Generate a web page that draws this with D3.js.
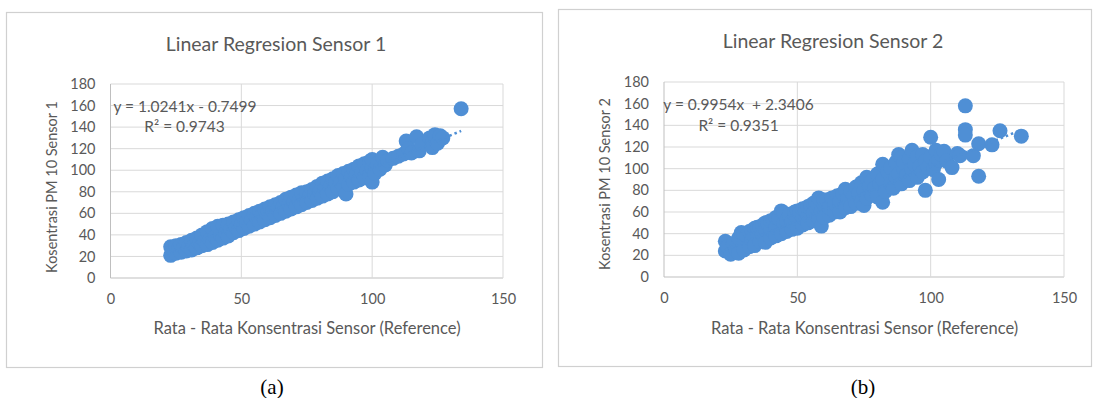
<!DOCTYPE html>
<html><head><meta charset="utf-8">
<script src="https://cdn.jsdelivr.net/npm/d3@7"></script>
<style>
body{margin:0;background:#fff}
svg{display:block}
text{font-family:Lato,"Open Sans",sans-serif;white-space:pre}
</style>
</head><body>
<svg id="c" width="1094" height="398"></svg>
<script>
// ---------- DATA ----------
const chartTitles = ["Linear Regresion Sensor 1", "Linear Regresion Sensor 2"];
const yAxisTitles = ["Kosentrasi PM 10 Sensor 1", "Kosentrasi PM 10 Sensor 2"];
const xAxisTitle = "Rata - Rata Konsentrasi Sensor (Reference)";
const captions = ["(a)", "(b)"];
const equations = ["y = 1.0241x - 0.7499", "y = 0.9954x  + 2.3406"];
const r2Labels = ["R\u00B2 = 0.9743", "R\u00B2 = 0.9351"];
const slopes = [1.0241, 0.9954];
const intercepts = [-0.7499, 2.3406];
const xTicks = [0, 50, 100, 150];
const yTicks = [0, 20, 40, 60, 80, 100, 120, 140, 160, 180];

const sensor1Points = [
[23,21],[23,29],[24,26],[25,23],[25,30],[26,27],[27,24],[27,31],[28,28],[29,25],[29,33],[30,29],[31,26],[31,35],
[32,30],[33,28],[33,37],[34,32],[35,30],[35,40],[36,34],[37,31],[37,43],[38,36],[39,33],[39,46],[40,38],[41,35],
[41,48],[42,40],[43,37],[43,49],[44,42],[45,39],[45,50],[46,45],[47,42],[47,52],[48,47],[49,44],[49,54],[50,50],
[51,46],[51,56],[52,52],[53,48],[53,58],[54,54],[55,50],[55,60],[56,56],[57,52],[57,62],[58,58],[59,54],[59,64],
[60,60],[61,56],[61,66],[62,62],[63,58],[63,68],[64,64],[65,60],[65,70],[66,66],[67,62],[67,73],[68,68],[69,64],
[69,75],[70,70],[71,66],[71,77],[72,72],[73,68],[73,79],[74,74],[75,70],[75,80],[76,76],[77,72],[77,82],[78,78],
[79,74],[79,85],[80,80],[81,76],[81,88],[82,83],[83,78],[83,90],[84,85],[85,80],[85,92],[86,88],[87,83],[87,95],
[88,89],[89,84],[89,97],[90,78],[90,92],[91,87],[91,99],[92,94],[93,89],[93,101],[94,96],[95,91],[95,104],[96,98],
[97,93],[97,106],[98,100],[99,95],[99,108],[100,89],[100,102],[100,110],[101,97],[102,106],[103,101],[104,112],
[105,105],[106,109],[108,111],[110,113],[112,115],[113,127],[114,120],[115,116],[117,131],[118,118],[119,124],
[122,130],[123,127],[123,121],[124,133],[125,125],[126,132],[127,130],[134,157]
];

const sensor2Points = [
[23,33],[23,24],[24,28],[25,21],[26,31],[27,25],[28,36],[28,22],[29,41],[30,31],[30,25],[30,40],[31,38],[32,28],
[32,42],[33,43],[33,34],[34,29],[34,45],[35,40],[35,46],[36,33],[36,46],[37,48],[37,39],[38,32],[38,44],[38,50],
[39,49],[40,36],[40,44],[40,52],[41,51],[42,38],[42,46],[42,55],[43,54],[44,61],[44,40],[45,49],[45,59],[46,42],
[46,52],[47,56],[47,58],[48,44],[48,51],[49,57],[49,60],[50,45],[50,54],[50,61],[51,59],[52,48],[52,55],[52,63],
[53,61],[54,50],[54,57],[54,65],[55,63],[55,66],[56,52],[56,59],[56,68],[57,65],[57,69],[58,73],[58,54],[59,47],
[59,61],[60,67],[60,55],[60,71],[61,71],[62,57],[62,64],[63,73],[64,60],[64,68],[65,75],[66,60],[66,70],[67,77],
[68,81],[68,64],[69,72],[70,79],[70,65],[71,74],[72,83],[72,68],[73,77],[74,87],[74,70],[75,66],[75,80],[76,92],
[76,73],[77,84],[78,76],[78,89],[79,82],[80,95],[80,74],[81,86],[82,104],[82,69],[82,90],[83,79],[84,97],[85,86],
[85,101],[86,82],[87,106],[87,92],[88,95],[88,113],[89,86],[89,110],[90,100],[90,106],[91,94],[92,109],[92,89],
[93,117],[93,100],[94,104],[95,111],[95,92],[96,102],[97,113],[97,97],[98,80],[98,107],[99,101],[100,129],[100,111],
[101,99],[102,117],[102,105],[103,90],[103,108],[104,113],[105,116],[106,107],[108,101],[110,114],[111,112],
[113,158],[113,136],[113,131],[116,112],[118,93],[118,123],[123,122],[126,135],[134,130]
];

const allPoints = [sensor1Points, sensor2Points];

// ---------- LAYOUT ----------
const layout = [
  {frame:[6.5,12.5,536,355], plot:[110.5,84,503,278], title:[276,43.5], ytitle:[51,187], xtitle:[307,328], eq:[185,106], r2:[184.5,126], cap:[272,387]},
  {frame:[558.5,9.5,533,357], plot:[664,82,1064,277], title:[833,40], ytitle:[604,184], xtitle:[864.6,328], eq:[738.5,104], r2:[738.6,125], cap:[863,387]}
];
const textColor = "#595959";
const gridColor = "#d9d9d9";
const markerColor = "#4f8fd5";

const svg = d3.select("#c");

layout.forEach((L, i) => {
  const g = svg.append("g");
  g.append("rect").attr("x", L.frame[0]).attr("y", L.frame[1]).attr("width", L.frame[2]).attr("height", L.frame[3])
    .attr("fill", "#fff").attr("stroke", "#d0d0d0").attr("stroke-width", 1.2);

  const x = d3.scaleLinear().domain([0, 150]).range([L.plot[0], L.plot[2]]);
  const y = d3.scaleLinear().domain([0, 180]).range([L.plot[3], L.plot[1]]);

  // grid
  g.append("g").selectAll("line").data(yTicks).join("line")
    .attr("x1", x(0)).attr("x2", x(150)).attr("y1", d => y(d)).attr("y2", d => y(d))
    .attr("stroke", d => d === 0 ? "#bfbfbf" : gridColor).attr("stroke-width", 1);
  g.append("g").selectAll("line").data(xTicks).join("line")
    .attr("y1", y(0)).attr("y2", y(180)).attr("x1", d => x(d)).attr("x2", d => x(d))
    .attr("stroke", d => d === 0 ? "#bfbfbf" : gridColor).attr("stroke-width", 1);

  // axes labels via d3 axes
  const xa = g.append("g").attr("transform", `translate(0,${y(0)})`)
    .call(d3.axisBottom(x).tickValues(xTicks).tickSize(0).tickPadding(16));
  const ya = g.append("g").attr("transform", `translate(${x(0)},0)`)
    .call(d3.axisLeft(y).tickValues(yTicks).tickSize(0).tickPadding(15));
  [xa, ya].forEach(a => {
    a.select(".domain").remove();
    a.selectAll("text").attr("fill", textColor).style("font-size", "14.5px").style("font-family", "Lato");
  });

  // points
  g.append("g").selectAll("circle").data(allPoints[i]).join("circle")
    .attr("cx", d => x(d[0])).attr("cy", d => y(d[1])).attr("r", 7.5)
    .attr("fill", markerColor);

  // trendline (dotted)
  const xs = allPoints[i].map(d => d[0]);
  const x0 = d3.min(xs), x1 = d3.max(xs);
  g.append("line")
    .attr("x1", x(x0)).attr("y1", y(slopes[i] * x0 + intercepts[i]))
    .attr("x2", x(x1)).attr("y2", y(slopes[i] * x1 + intercepts[i]))
    .attr("stroke", markerColor).attr("stroke-width", 2.5).attr("stroke-dasharray", "2.5,3");

  // texts
  g.append("text").attr("x", L.title[0]).attr("y", L.title[1]).attr("text-anchor", "middle")
    .attr("dominant-baseline", "central").attr("fill", textColor).style("font-size", "19.5px").text(chartTitles[i]);
  g.append("text").attr("transform", `translate(${L.ytitle[0]},${L.ytitle[1]}) rotate(-90)`).attr("text-anchor", "middle")
    .attr("dominant-baseline", "central").attr("fill", textColor).style("font-size", "14.5px").text(yAxisTitles[i]);
  g.append("text").attr("x", L.xtitle[0]).attr("y", L.xtitle[1]).attr("text-anchor", "middle")
    .attr("dominant-baseline", "central").attr("fill", textColor).style("font-size", "16.5px").text(xAxisTitle);
  g.append("text").attr("x", L.eq[0]).attr("y", L.eq[1]).attr("text-anchor", "middle")
    .attr("dominant-baseline", "central").attr("fill", textColor).style("font-size", "15.5px").text(equations[i]);
  g.append("text").attr("x", L.r2[0]).attr("y", L.r2[1]).attr("text-anchor", "middle")
    .attr("dominant-baseline", "central").attr("fill", textColor).style("font-size", "15.5px").text(r2Labels[i]);
  svg.append("text").attr("x", L.cap[0]).attr("y", L.cap[1]).attr("text-anchor", "middle")
    .attr("dominant-baseline", "central").attr("fill", "#000").style("font-family", "'Liberation Serif','Times New Roman',serif")
    .style("font-size", "21px").text(captions[i]);
});
</script>
</body></html>
